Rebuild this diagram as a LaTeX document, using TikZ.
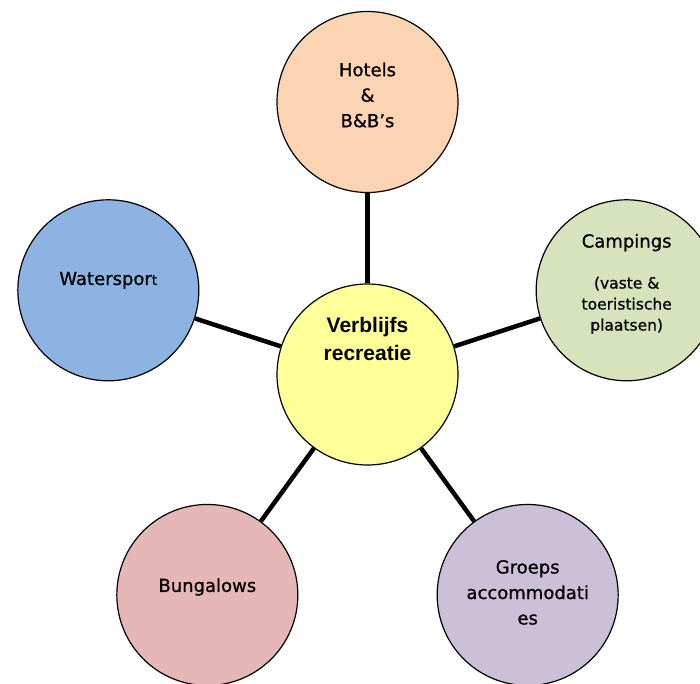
\documentclass[tikz,border=0pt]{standalone}
\usepackage{fontspec}
\setmainfont{DejaVu Sans}[FakeBold=0.8]
\newfontfamily\kopfont{Liberation Sans}
\usepackage{tikz}

\definecolor{midkleur}{HTML}{FFFF99}
\definecolor{hotelkleur}{HTML}{FBD4B4}
\definecolor{campkleur}{HTML}{D6E3BC}
\definecolor{waterkleur}{HTML}{8DB3E2}
\definecolor{bungkleur}{HTML}{E5B8B7}
\definecolor{groepkleur}{HTML}{CCC0D9}

\newcommand{\klein}{\fontsize{15.5}{21}\selectfont}

\begin{document}
\begin{tikzpicture}[x=1pt,y=1pt,
  bubble/.style={draw,circle,line width=1.2pt,minimum size=181pt,inner sep=0pt},
  txt/.style={align=center,font=\fontsize{18}{25.5}\selectfont},
  spoke/.style={line width=4.5pt}]
  \useasboundingbox (-367.5,-308.5) rectangle (332.5,374.5);

  \node[bubble,fill=midkleur,label={[align=center,yshift=35.5pt,font=\kopfont\bfseries\fontsize{21}{28.7}\selectfont]center:{Verblijfs\\recreatie}}] (0) at (0,0) {};
  \node[bubble,fill=hotelkleur,label={[txt,yshift=7pt]center:{Hotels\\\&\\B\&B’s}}] (1) at (90:272.5) {};
  \node[bubble,fill=campkleur,label={[txt,font=\klein,yshift=6.5pt]center:{\fontsize{18}{21}\selectfont Campings\\[20pt](vaste \&\\toeristische\\plaatsen)}}] (2) at (18:272.5) {};
  \node[bubble,fill=waterkleur,label={[txt,yshift=10pt]center:{Waterspor{\fontsize{14}{14}\selectfont t}}}] (3) at (162:272.5) {};
  \node[bubble,fill=bungkleur,label={[txt,yshift=8pt]center:{Bungalows}}] (4) at (-126:272.5) {};
  \node[bubble,fill=groepkleur,label={[txt,yshift=2.5pt]center:{Groeps\\accommodati\\es}}] (5) at (-54:272.5) {};

  \draw[spoke](0)--(1);
  \draw[spoke](0)--(2);
  \draw[spoke](0)--(3);
  \draw[spoke](0)--(4);
  \draw[spoke](0)--(5);
\end{tikzpicture}
\end{document}
